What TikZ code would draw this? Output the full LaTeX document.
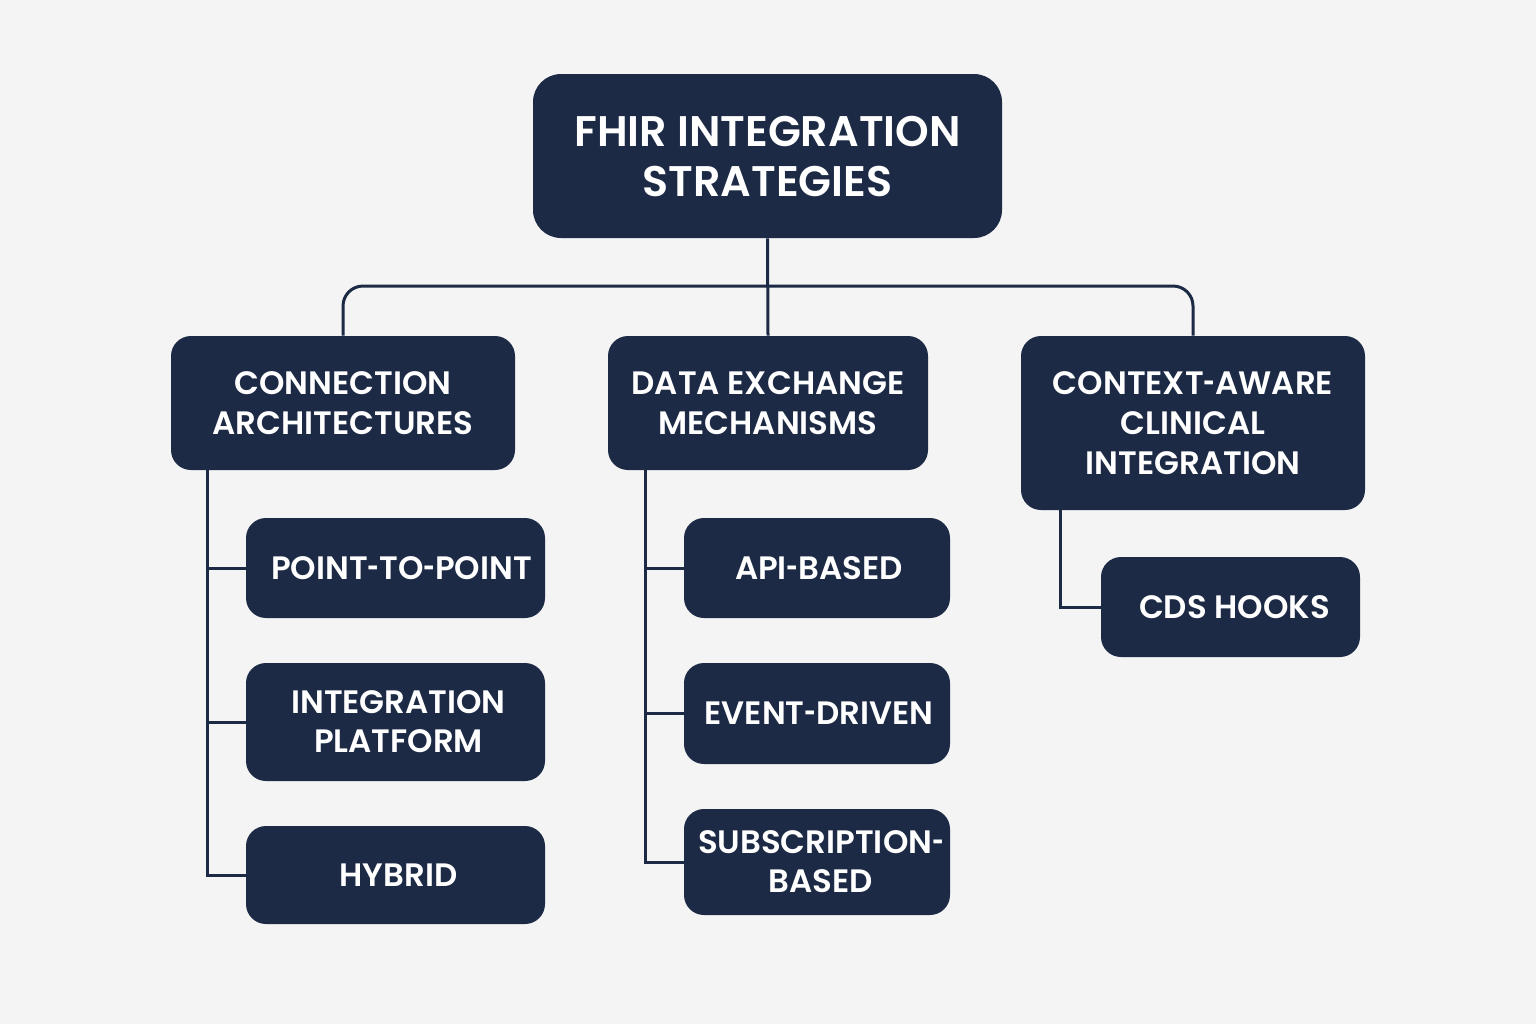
\documentclass[tikz,border=0pt]{standalone}
\usepackage{fontspec}
\setmainfont{Poppins}[UprightFont=*-SemiBold, BoldFont=*-Bold]
\definecolor{navy}{HTML}{1C2A45}
\definecolor{paper}{HTML}{F4F4F4}
% compact hyphen for the box labels
\newcommand\shorthy{\scalebox{0.62}[1]{-}}
\begin{document}
\begin{tikzpicture}[x=0.5pt,y=-0.5pt,
  box/.style={fill=navy, text=white, draw=none, align=center, inner sep=0pt},
  rootbox/.style={box, rounded corners=14pt, font=\fontsize{21.4}{25}\selectfont},
  catbox/.style={box, rounded corners=10pt, font=\fontsize{16.2}{20}\selectfont},
  leafbox/.style={box, rounded corners=10pt, font=\fontsize{16.2}{19.5}\selectfont},
  conn/.style={draw=navy, line width=1.5pt}]
  % canvas
  \fill[paper] (0,0) rectangle (1536,1024);
  \useasboundingbox (0,0) rectangle (1536,1024);

  % root
  \node[rootbox, minimum width=234.5pt, minimum height=82pt] (root) at (767.5,156) {FHIR INTEGRATION\\STRATEGIES};

  % categories
  \node[catbox, minimum width=172pt, minimum height=67pt] (ca) at (343,403) {CONNECTION\\ARCHITECTURES};
  \node[catbox, minimum width=160pt, minimum height=67pt] (dm) at (768,403) {DATA EXCHANGE\\MECHANISMS};
  \node[catbox, minimum width=172pt, minimum height=87pt] (cc) at (1193,423) {CONTEXT\shorthy AWARE\\CLINICAL\\INTEGRATION};

  % connection architectures
  \node[leafbox, minimum width=149.5pt, minimum height=50pt] (pp) at (395.5,568) {\hspace{6pt}POINT\shorthy TO\shorthy POINT};
  \node[leafbox, minimum width=149.5pt, minimum height=59pt] (ip) at (395.5,722) {\hspace{3pt}INTEGRATION\\\hspace{3pt}PLATFORM};
  \node[leafbox, minimum width=149.5pt, minimum height=49pt] (hy) at (395.5,875) {\hspace{3pt}HYBRID};

  % data exchange mechanisms
  \node[leafbox, minimum width=133pt, minimum height=50pt] (api) at (817,568) {\hspace{2pt}API\shorthy BASED};
  \node[leafbox, minimum width=133pt, minimum height=50.5pt] (ev) at (817,713.5) {\hspace{2pt}EVENT\shorthy DRIVEN};
  \node[leafbox, minimum width=133pt, minimum height=53pt] (sub) at (817,862) {\hspace{4pt}SUBSCRIPTION\shorthy\\\hspace{4pt}BASED};

  % context-aware clinical integration
  \node[leafbox, minimum width=129.5pt, minimum height=50pt] (cds) at (1230.5,607) {\hspace{4pt}CDS HOOKS};

  % top level bus
  \draw[conn] (root.south) -- (dm.north);
  \draw[conn, rounded corners=10pt] (ca.north) -- (ca.north |- 0,286) -| (cc.north);

  % left trunk
  \coordinate (lt) at (207,470);
  \draw[conn] (lt) |- (hy.west);
  \draw[conn] (lt |- pp.west) -- (pp.west);
  \draw[conn] (lt |- ip.west) -- (ip.west);

  % middle trunk
  \coordinate (mt) at (645,470);
  \draw[conn] (mt) |- (sub.west);
  \draw[conn] (mt |- api.west) -- (api.west);
  \draw[conn] (mt |- ev.west) -- (ev.west);

  % right trunk
  \coordinate (rt) at (1060,510);
  \draw[conn] (rt) |- (cds.west);
\end{tikzpicture}
\end{document}
